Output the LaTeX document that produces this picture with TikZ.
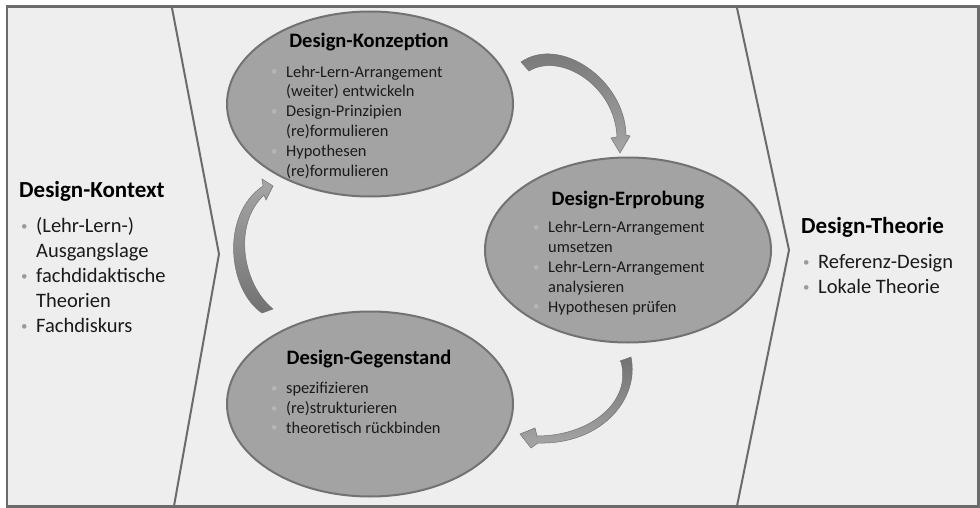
\documentclass[tikz,border=0pt]{standalone}
\usepackage{fontspec}
\setmainfont{Carlito}
\usetikzlibrary{shapes.geometric}

\definecolor{framegray}{HTML}{6B6B6B}
\definecolor{panel}{HTML}{EEEEEE}
\definecolor{phasegray}{HTML}{A3A3A3}
\definecolor{ringgray}{HTML}{727272}
\definecolor{dotgray}{HTML}{9A9A9A}
\definecolor{dotlight}{HTML}{B6B6B6}
\definecolor{arrowdark}{HTML}{727272}
\definecolor{arrowlight}{HTML}{A6A6A6}
\definecolor{inkgray}{HTML}{1A1A1A}

% bullet and hanging indent
\newcommand{\bu}[1]{\makebox[15pt][l]{\textcolor{#1}{\raisebox{0.15ex}{\fontsize{13}{13}\selectfont •}}}}
\newcommand{\ind}{\hspace*{15pt}}

\begin{document}
\begin{tikzpicture}[x=1pt,y=-1pt,
  phase/.style={ellipse,draw=ringgray,line width=2pt,fill=phasegray,minimum width=286pt,minimum height=185pt,inner sep=0pt},
  phasetitle/.style={font=\fontsize{20.5}{24}\selectfont\bfseries,anchor=base,inner sep=0pt},
  sidetitle/.style={font=\fontsize{23}{27}\selectfont\bfseries,anchor=base west,inner sep=0pt},
  items/.style={font=\fontsize{16.4}{19.8}\selectfont,align=left,anchor=base west,inner sep=0pt,text=inkgray},
  sideitems/.style={font=\fontsize{20.5}{25}\selectfont,align=left,anchor=base west,inner sep=0pt,text=inkgray},
  turn/.style={draw=arrowdark,line width=0.5pt}]
\useasboundingbox (0,0) rectangle (980,508);
\fill[white] (0,0) rectangle (980,508);
\draw[framegray,line width=2.5pt,fill=panel] (7,6.5) rectangle (978.5,506.5);
\draw[framegray,line width=2pt] (172,8) -- (219,254) -- (174,506);
\draw[framegray,line width=2pt] (737,8) -- (789,250) -- (737,506);

% phases
\node[phase] (konz) at (370,104) {};
\node[phase] (erpr) at (628,250) {};
\node[phase] (gegen) at (370,404) {};

% item nodes sit on the baseline of their last line
\node[phasetitle] (konztitle) at (369,48) {Design-Konzeption};
\node[items] (konzitems) at (271,176) {\bu{dotlight}Lehr-Lern-Arrangement\\ \ind(weiter) entwickeln\\ \bu{dotlight}Design-Prinzipien\\ \ind(re)formulieren\\ \bu{dotlight}Hypothesen\\ \ind(re)formulieren};

\node[phasetitle] (erprtitle) at (628,205) {Design-Erprobung};
\node[items] (erpritems) at (533,312) {\bu{dotlight}Lehr-Lern-Arrangement\\ \ind umsetzen\\ \bu{dotlight}Lehr-Lern-Arrangement\\ \ind analysieren\\ \bu{dotlight}Hypothesen prüfen};

\node[phasetitle] (gegentitle) at (369,364) {Design-Gegenstand};
\node[items] (gegenitems) at (271,433) {\bu{dotlight}spezifizieren\\ \bu{dotlight}(re)strukturieren\\ \bu{dotlight}theoretisch rückbinden};

% context and theory
\node[sidetitle] (kontext) at (19,197) {Design-Kontext};
\node[sideitems] (kontextitems) at (21,332) {\bu{dotgray}(Lehr-Lern-)\\ \ind Ausgangslage\\ \bu{dotgray}fachdidaktische\\ \ind Theorien\\ \bu{dotgray}Fachdiskurs};

\node[sidetitle] (theorie) at (801,233) {Design-Theorie};
\node[sideitems] (theorieitems) at (803,293) {\bu{dotgray}Referenz-Design\\ \bu{dotgray}Lokale Theorie};

% curved arrows between the phases
\shade[turn,top color=arrowdark,bottom color=arrowlight]
  (521,62) .. controls (560,35) and (625,80) .. (626,135) -- (630,136) -- (620,153) -- (611,138) -- (617,137)
  .. controls (615,85) and (560,52) .. (529,71) -- cycle;
\shade[turn,top color=arrowdark,bottom color=arrowlight]
  (620,361) -- (631,357) .. controls (640,400) and (600,445) .. (538,443) -- (531,448) -- (520,434) -- (535,428)
  -- (537,436) .. controls (590,436) and (632,402) .. (621,362) -- cycle;
\shade[turn,top color=arrowlight,bottom color=arrowdark]
  (273,309) .. controls (243,285) and (232,225) .. (264,195) -- (266,200) -- (273,186) -- (262,179) -- (263,186)
  .. controls (220,215) and (228,290) .. (262,313) -- cycle;
\end{tikzpicture}
\end{document}
